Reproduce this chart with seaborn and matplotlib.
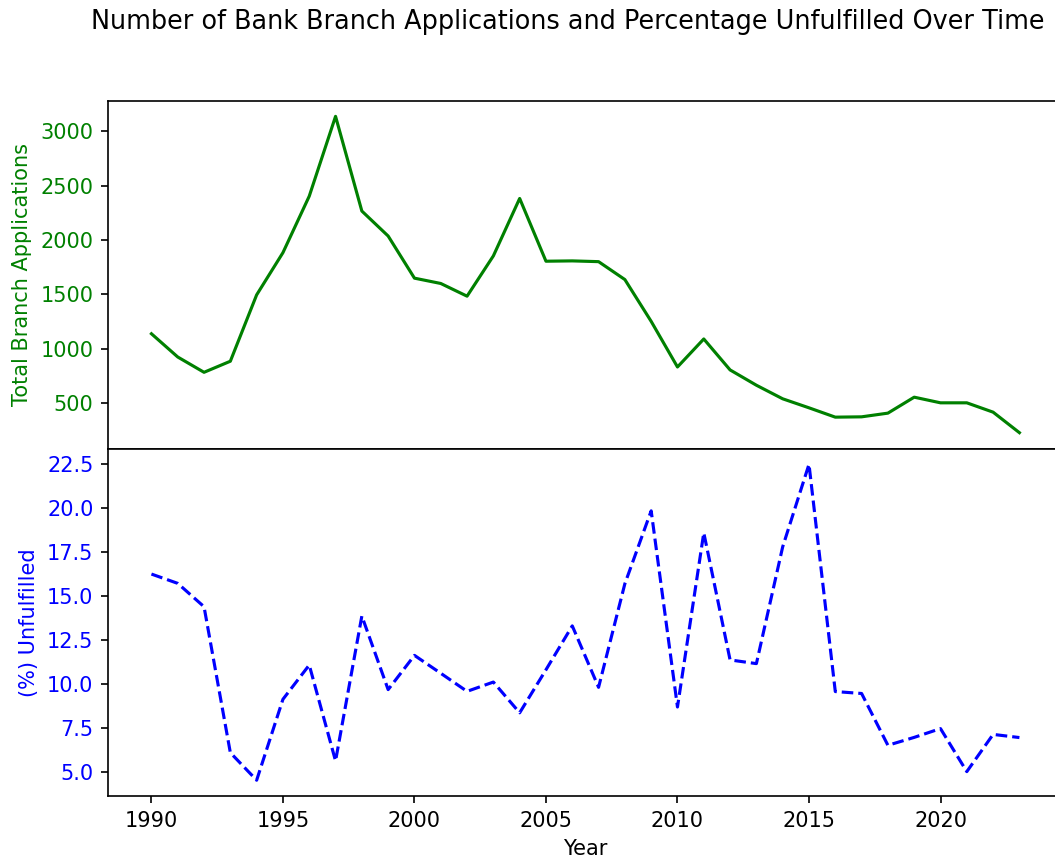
import pandas as pd
import matplotlib.pyplot as plt
import seaborn as sns

# values
years = list(range(1990, 2024))
applications = [1136, 922, 781, 883, 1494, 1883, 2403, 3138, 2266, 2036,
                1648, 1599, 1482, 1853, 2382, 1804, 1807, 1800, 1635, 1250,
                830, 1088, 803, 662, 537, 454, 368, 371, 405, 552,
                500, 500, 414, 225]
unfulfilled = [16.25, 15.72, 14.39, 6.08, 4.51, 9.12, 11.07, 5.61, 13.86, 9.67,
               11.62, 10.6, 9.57, 10.1, 8.35, 10.8, 13.3, 9.8, 15.7, 19.85,
               8.68, 18.6, 11.36, 11.15, 17.8, 22.5, 9.56, 9.45, 6.5, 6.95,
               7.45, 5.0, 7.12, 6.94]

df = pd.DataFrame({'Year': years, 'applications': applications, 'unfulfilled': unfulfilled})

fig = plt.figure(figsize=(1055 / 150, 863 / 150), dpi=150)
ax1 = fig.add_axes([0.1024, 0.4803, 0.905, 0.4032])
ax2 = fig.add_axes([0.1024, 0.0776, 0.905, 0.4027], sharex=ax1)

sns.lineplot(x='Year', y='applications', data=df, ax=ax1, color='green', linewidth=1.5)
sns.lineplot(x='Year', y='unfulfilled', data=df, ax=ax2, color='blue', linewidth=1.5, linestyle='--')

ax1.set_ylabel('Total Branch Applications', color='green')
ax1.tick_params(axis='y', labelcolor='green')
ax1.tick_params(axis='x', bottom=False, labelbottom=False)
ax1.set_xlabel('')

ax2.set_ylabel('(%) Unfulfilled', color='blue')
ax2.tick_params(axis='y', labelcolor='blue')
ax2.set_xlabel('Year')
ax2.spines['right'].set_visible(False)

fig.suptitle('Number of Bank Branch Applications and Percentage Unfulfilled Over Time',
             x=0.538, y=0.99, va='top', fontsize=12.25)

plt.savefig('out.png', dpi=150)
